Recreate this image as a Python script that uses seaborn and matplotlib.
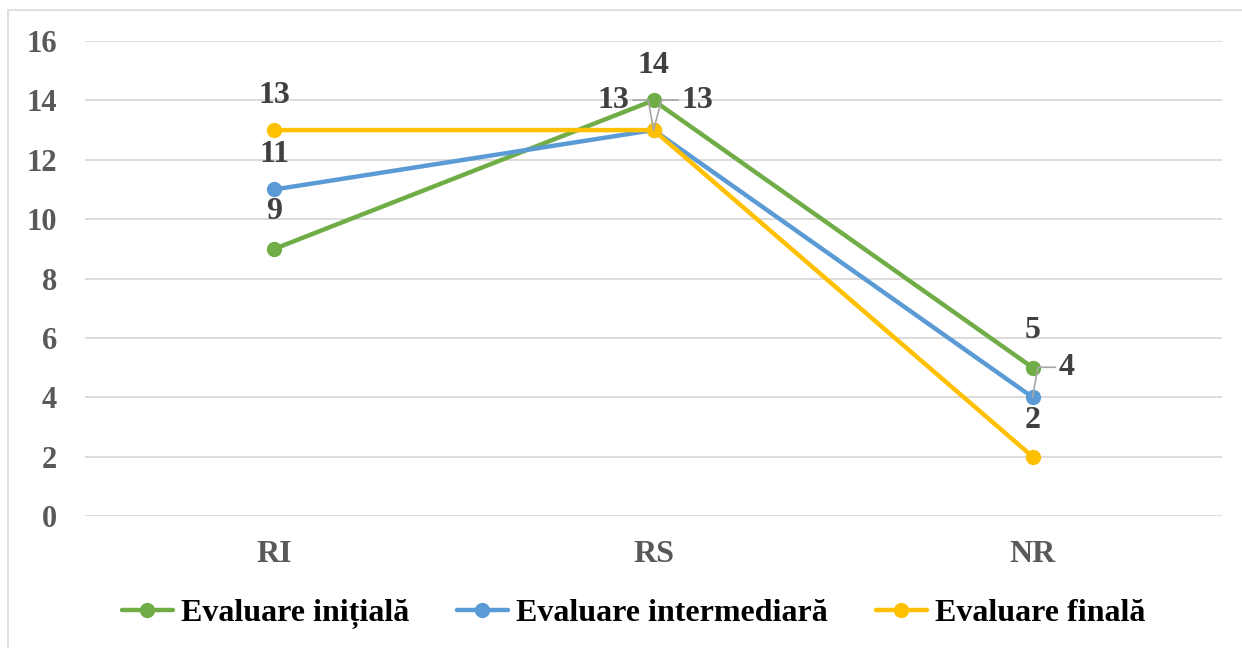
import matplotlib
matplotlib.use("Agg")
import matplotlib.pyplot as plt
from matplotlib.patches import Rectangle
import seaborn as sns
import pandas as pd

# Evaluation results per category
categories = ["RI", "RS", "NR"]
series_names = ["Evaluare inițială", "Evaluare intermediară", "Evaluare finală"]
initiala = [9, 14, 5]
intermediara = [11, 13, 4]
finala = [13, 13, 2]
y_ticks = [0, 2, 4, 6, 8, 10, 12, 14, 16]

colors = ["#70AD47", "#5B9BD5", "#FFC000"]

rows = []
for name, vals in zip(series_names, [initiala, intermediara, finala]):
    for cat, v in zip(categories, vals):
        rows.append({"categorie": cat, "valoare": v, "serie": name})
df = pd.DataFrame(rows)

sns.set_theme(style="white")
plt.rcParams["font.family"] = ["Liberation Serif", "DejaVu Serif"]
plt.rcParams["font.weight"] = "bold"

fig = plt.figure(figsize=(12.42, 6.48), dpi=100)
ax = fig.add_axes([0.0684, 0.2037, 0.9156, 0.733])

sns.lineplot(
    data=df, x="categorie", y="valoare", hue="serie",
    hue_order=series_names, palette=colors, sort=False,
    marker="o", markersize=11, markeredgewidth=0, linewidth=3.2,
    ax=ax, legend=True, zorder=3,
)

ax.set_xlim(-0.5, len(categories) - 0.5)
ax.set_ylim(0, 16)
ax.set_yticks(y_ticks)
ax.set_xlabel("")
ax.set_ylabel("")
for s in ax.spines.values():
    s.set_visible(False)
ax.grid(axis="y", color="#D9D9D9", linewidth=1.3, zorder=0)
ax.grid(axis="x", visible=False)
ax.tick_params(axis="y", length=0, pad=20, labelsize=22, labelcolor="#595959")
ax.tick_params(axis="x", length=0, pad=17, labelsize=23, labelcolor="#595959")
for lab in ax.get_xticklabels() + ax.get_yticklabels():
    lab.set_fontweight("bold")

# Data labels: (dx, dy) offsets in pixels, with leader line angle where needed
offsets = {
    (0, 0): (0, 37, None), (0, 1): (0, 35, None), (0, 2): (0, 35, None),
    (1, 0): (0, 35, None), (1, 1): (-40, 30, 100), (1, 2): (44, 30, 75),
    (2, 0): (0, 37, None), (2, 1): (34, 30, 80), (2, 2): (0, 36, None),
}
for si, vals in enumerate([initiala, intermediara, finala]):
    for ci, v in enumerate(vals):
        dx, dy, ang = offsets[(ci, si)]
        kw = {}
        if ang is not None:
            relx = 1.0 if dx < 0 else 0.0
            kw["arrowprops"] = dict(
                arrowstyle="-", color="#A6A6A6", lw=1.2,
                connectionstyle=f"angle,angleA=0,angleB={ang},rad=0",
                relpos=(relx, 0.5), shrinkA=0, shrinkB=0,
            )
        ax.annotate(
            str(v), xy=(ci, v), xytext=(dx, dy), textcoords="offset pixels",
            ha="center", va="center", fontsize=23, fontweight="bold",
            color="#404040", zorder=5, **kw,
        )

handles, labels = ax.get_legend_handles_labels()
ax.legend_.remove()
leg = fig.legend(
    handles, labels, loc="center", bbox_to_anchor=(0.51, 0.0525), ncol=3,
    frameon=False, prop={"family": "Liberation Serif", "weight": "bold", "size": 23},
    handlelength=1.6, handletextpad=0.25, columnspacing=1.5, labelcolor="black",
)
for h in leg.legend_handles:
    h.set_linewidth(3.2)
    h.set_markersize(11)

# Light chart border (open towards the right and bottom edges)
fig.patches.append(Rectangle((8 / 1242, -0.1), 1.2, 1.1 - 10 / 648,
                             transform=fig.transFigure, fill=False,
                             edgecolor="#D9D9D9", linewidth=1.2))

fig.savefig("out.png", dpi=100)
